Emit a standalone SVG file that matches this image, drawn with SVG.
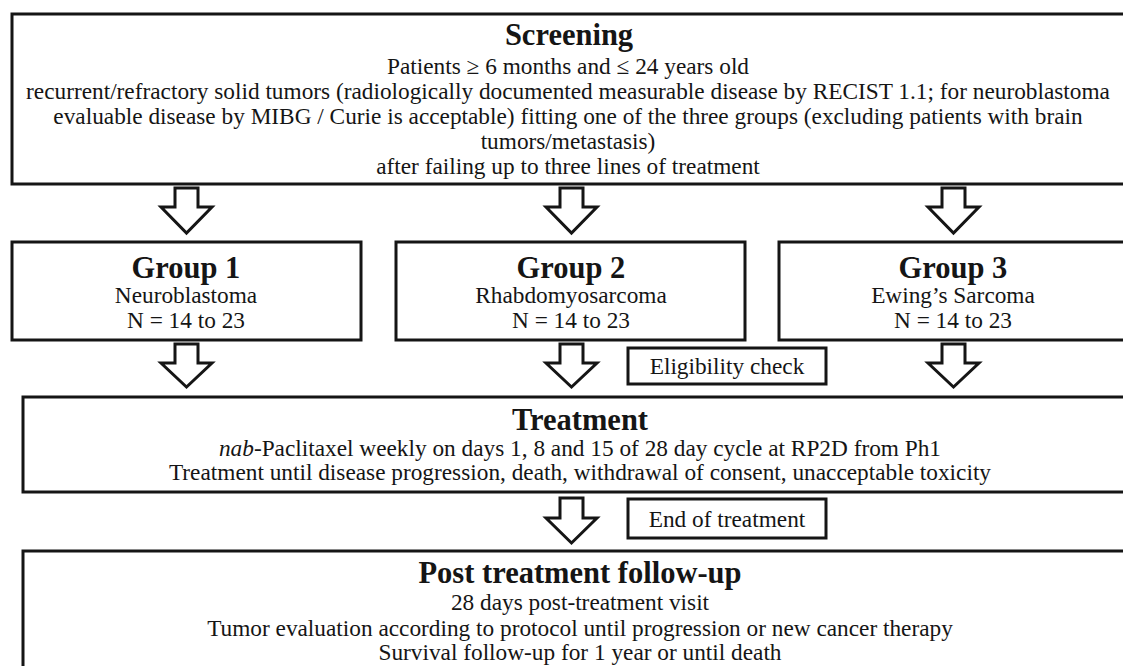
<svg xmlns="http://www.w3.org/2000/svg" width="1123" height="666" viewBox="0 0 1123 666">
<style>
.box{fill:#fff;stroke:#151515;stroke-width:3}
.arrow{fill:#fff;stroke:#151515;stroke-width:3;stroke-linejoin:miter}
text{font-family:"Liberation Serif","Times New Roman",serif;fill:#151515;text-anchor:middle}
.t{font-size:30.5px;font-weight:bold}
.b{font-size:23.3px}
</style>
<rect width="1123" height="666" fill="#fff"/>
<g id="connectors">
<path class="arrow" d="M175,188 H198 V207 H212 L186.5,233 L161,207 H175 Z"/>
<path class="arrow" d="M560,188 H583 V207 H597 L571.5,233 L546,207 H560 Z"/>
<path class="arrow" d="M942,188 H965 V207 H979 L953.5,233 L928,207 H942 Z"/>
<path class="arrow" d="M175,344 H198 V363 H212 L186.5,387 L161,363 H175 Z"/>
<path class="arrow" d="M560,344 H583 V363 H597 L571.5,387 L546,363 H560 Z"/>
<path class="arrow" d="M942,344 H965 V363 H979 L953.5,387 L928,363 H942 Z"/>
<path class="arrow" d="M560,498 H583 V518 H597 L571.5,543 L546,518 H560 Z"/>
</g>
<g id="screening">
<rect class="box" x="12" y="14" width="1116" height="170"/>
<text class="t" x="569" y="45">Screening</text>
<text class="b" x="568" y="74">Patients ≥ 6 months and ≤ 24 years old</text>
<text class="b" x="568" y="99">recurrent/refractory solid tumors (radiologically documented measurable disease by RECIST 1.1; for neuroblastoma</text>
<text class="b" x="568" y="124">evaluable disease by MIBG / Curie is acceptable) fitting one of the three groups (excluding patients with brain</text>
<text class="b" x="568" y="149">tumors/metastasis)</text>
<text class="b" x="568" y="174">after failing up to three lines of treatment</text>
</g>
<g id="group1">
<rect class="box" x="12" y="242" width="349" height="98"/>
<text class="t" x="186" y="278">Group 1</text>
<text class="b" x="186" y="303">Neuroblastoma</text>
<text class="b" x="186" y="328">N = 14 to 23</text>
</g>
<g id="group2">
<rect class="box" x="396" y="242" width="349" height="98"/>
<text class="t" x="571" y="278">Group 2</text>
<text class="b" x="571" y="303">Rhabdomyosarcoma</text>
<text class="b" x="571" y="328">N = 14 to 23</text>
</g>
<g id="group3">
<rect class="box" x="779" y="242" width="350" height="98"/>
<text class="t" x="953" y="278">Group 3</text>
<text class="b" x="953" y="303">Ewing’s Sarcoma</text>
<text class="b" x="953" y="328">N = 14 to 23</text>
</g>
<g id="eligibility">
<rect class="box" x="628" y="348" width="198" height="36"/>
<text class="b" x="727" y="374">Eligibility check</text>
</g>
<g id="treatment">
<rect class="box" x="23" y="397" width="1114" height="95"/>
<text class="t" x="580" y="430">Treatment</text>
<text class="b" x="580" y="456"><tspan font-style="italic">nab</tspan>-Paclitaxel weekly on days 1, 8 and 15 of 28 day cycle at RP2D from Ph1</text>
<text class="b" x="580" y="480">Treatment until disease progression, death, withdrawal of consent, unacceptable toxicity</text>
</g>
<g id="end-of-treatment">
<rect class="box" x="628" y="499" width="198" height="39"/>
<text class="b" x="727" y="527">End of treatment</text>
</g>
<g id="post-treatment">
<rect class="box" x="23" y="551" width="1114" height="130"/>
<text class="t" x="580" y="583">Post treatment follow-up</text>
<text class="b" x="580" y="610">28 days post-treatment visit</text>
<text class="b" x="580" y="636">Tumor evaluation according to protocol until progression or new cancer therapy</text>
<text class="b" x="580" y="660">Survival follow-up for 1 year or until death</text>
</g>
</svg>
